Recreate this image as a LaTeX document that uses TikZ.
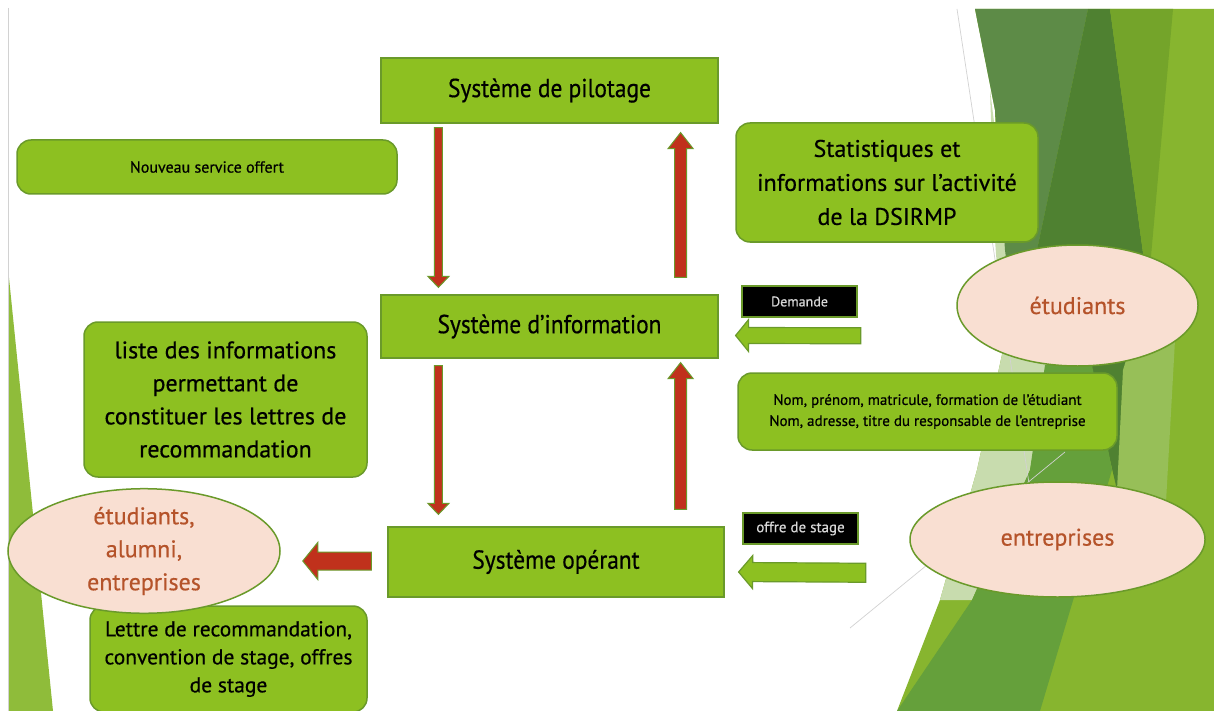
\documentclass[tikz,border=0pt]{standalone}
\usepackage{fontspec}
\setmainfont[FakeBold=0.5]{PT Sans}
\newfontfamily\titlefont[FakeStretch=0.9,FakeBold=0.5]{PT Sans}
\usetikzlibrary{shapes.geometric,calc}

\definecolor{boxgreen}{HTML}{8DC021}
\definecolor{edgegreen}{HTML}{6A9A2A}
\definecolor{arrowred}{HTML}{C0311C}
\definecolor{peach}{HTML}{F9DFD2}
\definecolor{rust}{HTML}{B5532A}
\definecolor{tagtext}{HTML}{D8D8D8}
\definecolor{facetbase}{HTML}{87B52F}
\definecolor{facetpale}{HTML}{C8DCAE}
\definecolor{facetmid}{HTML}{65A03B}
\definecolor{facetdark}{HTML}{4F8131}
\definecolor{facetgrey}{HTML}{5D8B47}
\definecolor{facetolive}{HTML}{74A42A}
\definecolor{facetlight}{HTML}{97BF58}
\definecolor{facetleft}{HTML}{8FBC3A}

\tikzset{sysbox/.style={draw=edgegreen, fill=boxgreen, line width=1.2pt, inner sep=0pt,
                        font=\titlefont\fontsize{26}{30}\selectfont}}
\tikzset{notebox/.style={draw=edgegreen, fill=boxgreen, line width=1.5pt, rounded corners=14pt,
                         inner sep=0pt, align=center}}
\tikzset{actor/.style={ellipse, draw=edgegreen, fill=peach, text=rust, line width=1.5pt,
                       inner sep=0pt, align=center}}
\tikzset{tagbox/.style={draw=edgegreen, fill=black, text=tagtext, line width=1.5pt, inner sep=0pt}}
\tikzset{redarrow/.style={draw=edgegreen, fill=arrowred, line width=1pt}}
\tikzset{greenarrow/.style={draw=edgegreen, fill=boxgreen, line width=1.2pt}}

% block arrow: style, from, to, half shaft, half head, head length
\newcommand\flowarrow[6]{%
  \coordinate (fa-b) at ($(#3)!#6!(#2)$);
  \draw[#1] ($(#2)!#4!90:(#3)$) -- ($(fa-b)!#4!-90:(#2)$) -- ($(fa-b)!#5!-90:(#2)$) -- (#3)
     -- ($(fa-b)!#5!90:(#2)$) -- ($(fa-b)!#4!90:(#2)$) -- ($(#2)!#4!-90:(#3)$) -- cycle;}

\begin{document}
\begin{tikzpicture}[x=1pt, y=-1pt]
\useasboundingbox (0,0) rectangle (1214,711);
\fill[white] (0,0) rectangle (1214,711);

% background facets
\fill[facetbase] (975,9) -- (1214,9) -- (1214,711) -- (897,711) -- (940,600) -- (977,470)
  -- (1003,350) -- (995,110) -- cycle;
\fill[facetpale] (990,90) -- (1010,250) -- (1048,365) -- (1030,470) -- (972,600) -- (940,600)
  -- (977,470) -- (1003,350) -- (995,240) -- cycle;
\fill[facetgrey] (975,9) -- (1088,9) -- (1037,250) -- (1015,330) -- (1005,250) -- (995,110) -- cycle;
\fill[facetdark] (1088,9) -- (1110,9) -- (1148,290) -- (1117,490) -- (1088,365) -- (1037,250) -- cycle;
\fill[facetolive] (1110,9) -- (1173,9) -- (1148,290) -- cycle;
\fill[facetlight] (1148,290) -- (1175,340) -- (1165,520) -- (1117,490) -- (1123,370) -- cycle;
\fill[facetmid] (1045,365) -- (1092,365) -- (1112,470) -- (1040,711) -- (897,711) -- (972,600)
  -- (1030,470) -- cycle;
\draw[gray!35, line width=0.7pt] (957,9) -- (1030,490);
\draw[gray!35, line width=0.7pt] (850,628) -- (1065,452);
\fill[facetleft] (8,268) -- (8,711) -- (53,711) -- cycle;
\draw[gray!35, line width=1pt] (8,8) -- (8,711);

% systems
\node[sysbox, minimum width=337, minimum height=65] (pilot) at (549.5,90.5) {Système de pilotage};
\node[sysbox, minimum width=337, minimum height=63] (info) at (549.5,326.5) {Système d’information};
\node[sysbox, minimum width=336, minimum height=70] (oper) at (556,562) {Système opérant};

% notes
\node[notebox, minimum width=380, minimum height=54, font=\fontsize{16}{18}\selectfont]
  (service) at (207,167) {Nouveau service offert};
\node[notebox, minimum width=302, minimum height=119, font=\fontsize{24}{34}\selectfont]
  (stats) at (887,182.5) {Statistiques et\\informations sur l’activité\\de la DSIRMP};
\node[notebox, minimum width=283, minimum height=155, font=\fontsize{24}{33}\selectfont]
  (liste) at (225.5,399.5) {liste des informations\\permettant de\\constituer les lettres de\\recommandation};
\node[notebox, minimum width=379, minimum height=77, font=\fontsize{15}{21}\selectfont]
  (ident) at (927.5,411.5) {Nom, prénom, matricule, formation de l’étudiant\\Nom, adresse, titre du responsable de l’entreprise};
\node[notebox, minimum width=277, minimum height=106, font=\fontsize{21.5}{28}\selectfont]
  (lettre) at (228.5,659) {Lettre de recommandation,\\convention de stage, offres\\de stage};

% actors
\node[actor, minimum width=241, minimum height=121, font=\fontsize{24}{30}\selectfont]
  (etud) at (1077.5,305.5) {étudiants};
\node[actor, minimum width=295, minimum height=115, font=\fontsize{24}{30}\selectfont]
  (entr) at (1057.5,539.5) {entreprises};
\node[actor, minimum width=272, minimum height=102, font=\fontsize{24}{33}\selectfont]
  (dest) at (144,551) {étudiants,\\alumni,\\entreprises};

% flow tags
\node[tagbox, minimum width=115, minimum height=31, font=\fontsize{14}{16}\selectfont]
  (demande) at (799.5,301.5) {Demande};
\node[tagbox, minimum width=115, minimum height=31, font=\fontsize{15}{16}\selectfont]
  (offre) at (800.5,528.5) {offre de stage};

% arrow ends
\coordinate (d1s) at ($(pilot.south west)+(58,4)$);
\coordinate (d1e) at ($(info.north west)+(58,-7)$);
\coordinate (u1s) at ($(info.north east)+(-38,-17)$);
\coordinate (u1e) at ($(pilot.south east)+(-38,9)$);
\coordinate (d2s) at ($(info.south west)+(58,7)$);
\coordinate (d2e) at ($(oper.north west)+(51,-12)$);
\coordinate (u2s) at ($(oper.north east)+(-44,-17)$);
\coordinate (u2e) at ($(info.south east)+(-38,4)$);
\coordinate (ls) at ($(oper.west)+(-16,-1)$);
\coordinate (le) at ($(dest.east)+(22,10)$);
\coordinate (gs1) at ($(demande.south east)+(3,18)$);
\coordinate (ge1) at ($(info.east)+(17,9)$);
\coordinate (gs2) at ($(offre.south east)+(7,28)$);
\coordinate (ge2) at ($(oper.east)+(14,10)$);

\flowarrow{redarrow}{d1s}{d1e}{4pt}{10.5pt}{11pt}
\flowarrow{redarrow}{u1s}{u1e}{6pt}{12.5pt}{16pt}
\flowarrow{redarrow}{d2s}{d2e}{4pt}{10.5pt}{11pt}
\flowarrow{redarrow}{u2s}{u2e}{6pt}{12.5pt}{16pt}
\flowarrow{redarrow}{ls}{le}{9pt}{18.5pt}{15pt}
\flowarrow{greenarrow}{gs1}{ge1}{8pt}{16pt}{13pt}
\flowarrow{greenarrow}{gs2}{ge2}{9.5pt}{16.5pt}{14pt}
\end{tikzpicture}
\end{document}
